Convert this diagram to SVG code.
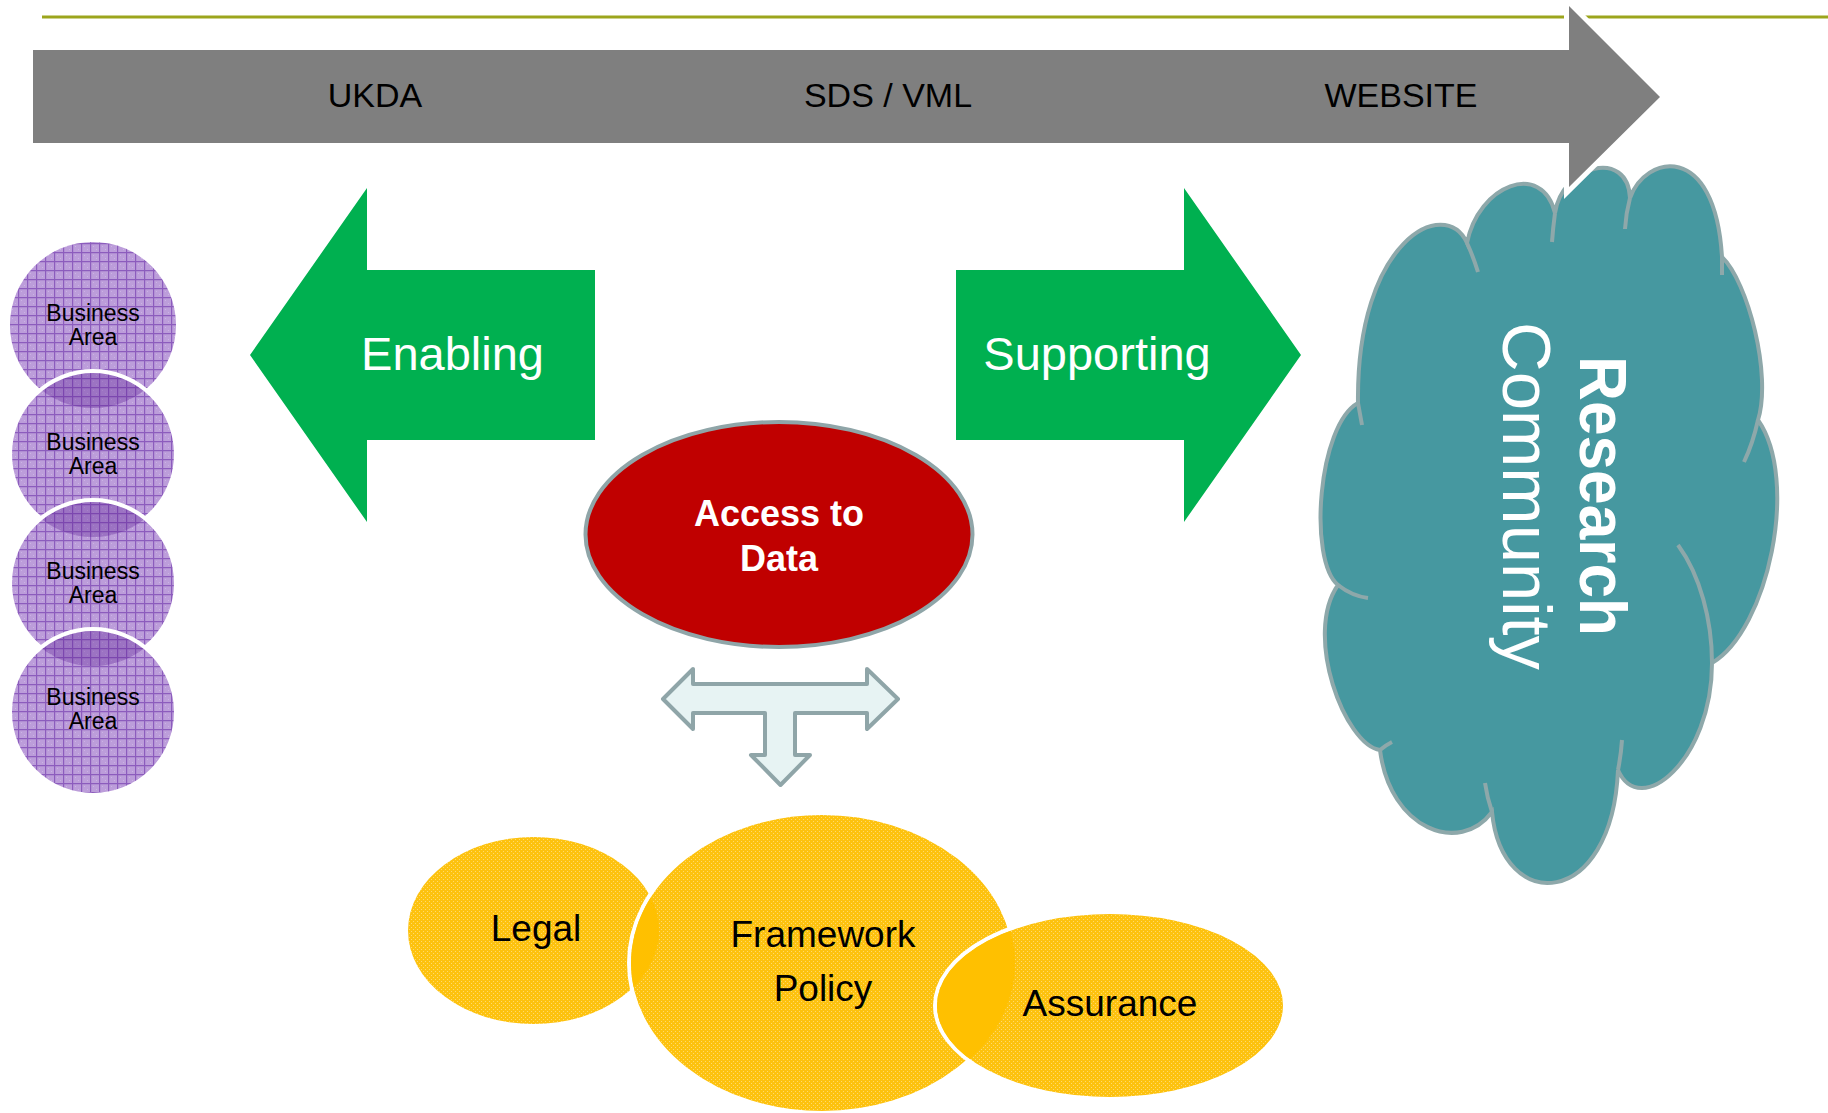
<svg xmlns="http://www.w3.org/2000/svg" width="1828" height="1113" viewBox="0 0 1828 1113">
<defs>
<style>
text{font-family:"Liberation Sans",Arial,sans-serif}
.band{font-size:34px;fill:#000;text-anchor:middle}
.greenlbl{font-size:47px;fill:#fff;text-anchor:middle}
.ba{font-size:23px;fill:#000;text-anchor:middle}
.yl{font-size:37px;fill:#000;text-anchor:middle}
.cloud{fill:#4698A0;stroke:#8EA8AA;stroke-width:4}
.tail{fill:none;stroke:#8EA8AA;stroke-width:4}
.ga{fill:#00B050}
</style>
<pattern id="grid" patternUnits="userSpaceOnUse" width="9" height="9">
<rect width="9" height="9" fill="#BC9DDA"/>
<rect x="3" y="3" width="1" height="1" fill="#CBB3E4"/>
<rect x="6" y="6" width="1" height="1" fill="#CBB3E4"/>
<path d="M0,0.6H9M0.6,0V9" stroke="#8C5CBD" stroke-width="1.2"/>
</pattern>
<pattern id="ydots" patternUnits="userSpaceOnUse" width="4" height="4">
<rect width="4" height="4" fill="#FDC20F"/>
<rect x="1" y="1" width="1" height="1" fill="#FFDA6E"/>
<rect x="3" y="3" width="1" height="1" fill="#FFDA6E"/>
</pattern>
<clipPath id="c1"><circle cx="93" cy="325" r="83"/></clipPath>
<clipPath id="c2"><circle cx="93" cy="454" r="83"/></clipPath>
<clipPath id="c3"><circle cx="93" cy="583" r="83"/></clipPath>
<clipPath id="fwIn"><ellipse cx="822" cy="963" rx="191" ry="148"/></clipPath>
<clipPath id="asIn"><ellipse cx="1110" cy="1005.5" rx="173" ry="91.5"/></clipPath>
</defs>

<line x1="42" y1="17" x2="1828" y2="17" stroke="#9CA51C" stroke-width="2.8"/>

<g id="research-community">
<path class="cloud" d="M1358,403 C1356,240 1445,195 1467,243 C1478,185 1542,160 1555,213 C1562,165 1628,148 1630,198 C1645,155 1715,140 1722,257 C1748,282 1772,375 1758,420 C1800,480 1768,630 1712,663 C1712,760 1640,820 1618,770 C1612,910 1502,915 1492,812 C1460,855 1390,830 1380,750 C1345,745 1303,635 1338,585 C1308,560 1318,425 1358,403 Z"/>
<path class="tail" d="M1467,243 Q1473,256 1478,272 M1555,213 Q1553,228 1552,242 M1630,198 Q1626,213 1625,229 M1722,257 L1722,275 M1758,420 Q1753,443 1744,462 M1712,663 C1712,620 1700,575 1678,545 M1618,770 Q1621,755 1622,740 M1492,812 Q1487,797 1485,783 M1380,750 Q1386,745 1392,742 M1338,585 Q1352,596 1368,598 M1358,403 Q1360,414 1362,425"/>
<text transform="translate(1580,496) rotate(90)" font-size="67" font-weight="bold" fill="#fff" text-anchor="middle" textLength="280" lengthAdjust="spacingAndGlyphs">Research</text>
<text transform="translate(1503,496) rotate(90)" font-size="68" fill="#fff" text-anchor="middle" textLength="348" lengthAdjust="spacingAndGlyphs">Community</text>
</g>

<g id="timeline">
<path d="M33,50 H1569 V6 L1660,97 L1569,187 V143 H33 Z" fill="#7F7F7F" stroke="#fff" stroke-width="10" stroke-linejoin="miter" paint-order="stroke"/>
<text class="band" x="375" y="107">UKDA</text>
<text class="band" x="888" y="107">SDS / VML</text>
<text class="band" x="1401" y="107">WEBSITE</text>
</g>

<g id="enabling">
<path class="ga" d="M250,355 L367,188 V270 H595 V440 H367 V522 Z"/>
<text class="greenlbl" x="452.5" y="370">Enabling</text>
</g>

<g id="supporting">
<path class="ga" d="M956,270 H1184 V188 L1301,355 L1184,522 V440 H956 Z"/>
<text class="greenlbl" x="1097" y="370">Supporting</text>
</g>

<g id="access-to-data">
<ellipse cx="779" cy="534.5" rx="193.5" ry="112.5" fill="#C00000" stroke="#8FA5A8" stroke-width="4"/>
<text x="779" y="526" font-size="36" font-weight="bold" fill="#fff" text-anchor="middle">Access to</text>
<text x="779" y="571" font-size="36" font-weight="bold" fill="#fff" text-anchor="middle">Data</text>
</g>

<g id="connectors">
<path d="M663,699 L693,669 V684 H867 V669 L898,699 L867,729 V713 H795 V755 H810 L780.5,785 L751,755 H765 V713 H693 V729 Z" fill="#E7F3F3" stroke="#8FA5A8" stroke-width="4" stroke-linejoin="round"/>
</g>

<g id="legal">
<ellipse cx="533.5" cy="930.5" rx="125.5" ry="93.5" fill="url(#ydots)"/>
<text class="yl" x="536" y="941">Legal</text>
</g>

<g id="framework-policy">
<ellipse cx="822" cy="963" rx="193" ry="150" fill="url(#ydots)" stroke="#fff" stroke-width="4"/>
<ellipse cx="533.5" cy="930.5" rx="125.5" ry="93.5" fill="#FFC000" clip-path="url(#fwIn)"/>
<text class="yl" x="823" y="947">Framework</text>
<text class="yl" x="823" y="1001">Policy</text>
</g>

<g id="assurance">
<ellipse cx="1110" cy="1005.5" rx="175" ry="93.5" fill="url(#ydots)" stroke="#fff" stroke-width="4"/>
<ellipse cx="822" cy="963" rx="193" ry="150" fill="#FFC000" clip-path="url(#asIn)"/>
<text class="yl" x="1110" y="1016">Assurance</text>
</g>

<g id="business-area-1">
<circle cx="93" cy="325" r="83" fill="url(#grid)"/>
<text class="ba" x="93" y="321">Business</text>
<text class="ba" x="93" y="344.5">Area</text>
</g>
<g id="business-area-2">
<circle cx="93" cy="454" r="83" fill="url(#grid)"/>
<circle cx="93" cy="454" r="83" fill="#5A1D92" fill-opacity="0.32" clip-path="url(#c1)"/>
<circle cx="93" cy="454" r="83" fill="none" stroke="#fff" stroke-width="4"/>
<text class="ba" x="93" y="450">Business</text>
<text class="ba" x="93" y="473.5">Area</text>
</g>
<g id="business-area-3">
<circle cx="93" cy="583" r="83" fill="url(#grid)"/>
<circle cx="93" cy="583" r="83" fill="#5A1D92" fill-opacity="0.32" clip-path="url(#c2)"/>
<circle cx="93" cy="583" r="83" fill="none" stroke="#fff" stroke-width="4"/>
<text class="ba" x="93" y="579">Business</text>
<text class="ba" x="93" y="602.5">Area</text>
</g>
<g id="business-area-4">
<circle cx="93" cy="712" r="83" fill="url(#grid)"/>
<circle cx="93" cy="712" r="83" fill="#5A1D92" fill-opacity="0.32" clip-path="url(#c3)"/>
<circle cx="93" cy="712" r="83" fill="none" stroke="#fff" stroke-width="4"/>
<text class="ba" x="93" y="705">Business</text>
<text class="ba" x="93" y="728.5">Area</text>
</g>
</svg>
